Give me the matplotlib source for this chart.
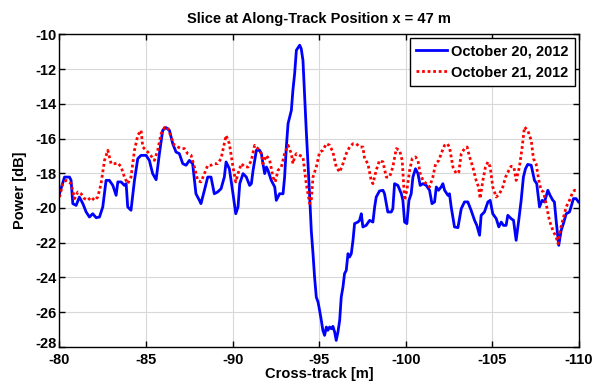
import numpy as np
import matplotlib.pyplot as plt
import matplotlib.transforms as mtransforms

# Cross-track power slice, October 20, 2012
cross_track_oct20 = [
    -80.00, -80.29, -80.58, -80.67, -80.77, -80.96, -81.15, -81.35, -81.54, -81.73,
    -81.92, -82.12, -82.31, -82.50, -82.69, -82.88, -83.08, -83.27, -83.37, -83.56,
    -83.75, -83.85, -83.94, -84.13, -84.33, -84.52, -84.71, -85.00, -85.19, -85.38,
    -85.58, -85.77, -85.96, -86.15, -86.35, -86.54, -86.73, -86.92, -87.12, -87.31,
    -87.50, -87.69, -87.88, -88.08, -88.17, -88.37, -88.56, -88.75, -88.94, -89.13,
    -89.33, -89.52, -89.62, -89.81, -90.02, -90.18, -90.31, -90.41, -90.60, -90.79,
    -90.98, -91.08, -91.18, -91.37, -91.56, -91.66, -91.75, -91.85, -91.95, -92.04,
    -92.23, -92.43, -92.52, -92.71, -92.91, -93.00, -93.10, -93.20, -93.39, -93.48,
    -93.58, -93.68, -93.87, -93.96, -94.06, -94.16, -94.25, -94.35, -94.45, -94.54,
    -94.64, -94.73, -94.83, -94.93, -95.02, -95.12, -95.21, -95.31, -95.41, -95.50,
    -95.60, -95.70, -95.79, -95.89, -95.98, -96.08, -96.18, -96.27, -96.37, -96.46,
    -96.56, -96.66, -96.75, -96.85, -96.95, -97.04, -97.23, -97.33, -97.43, -97.52,
    -97.71, -97.91, -98.10, -98.20, -98.29, -98.48, -98.68, -98.77, -98.87, -98.96,
    -99.16, -99.25, -99.35, -99.54, -99.74, -99.83, -99.93, -100.06, -100.18, -100.31,
    -100.41, -100.56, -100.70, -100.83, -100.99, -101.18, -101.37, -101.51, -101.66, -101.76,
    -101.89, -102.04, -102.14, -102.24, -102.43, -102.52, -102.62, -102.81, -103.01, -103.20,
    -103.39, -103.58, -103.77, -103.97, -104.10, -104.26, -104.35, -104.54, -104.74, -104.87,
    -105.02, -105.22, -105.37, -105.51, -105.64, -105.79, -105.89, -106.08, -106.22, -106.37,
    -106.52, -106.66, -106.79, -106.91, -107.04, -107.24, -107.43, -107.56, -107.72, -107.87,
    -108.01, -108.20, -108.33, -108.49, -108.58, -108.68, -108.83, -108.97, -109.10, -109.26,
    -109.45, -109.54, -109.68, -109.83, -109.97,
]
power_oct20 = [
    -19.18, -18.22, -18.22, -18.41, -19.75, -19.85, -19.37, -19.75, -20.23, -20.52,
    -20.33, -20.56, -20.52, -19.94, -18.41, -18.41, -18.70, -19.27, -18.50, -18.50,
    -18.70, -18.60, -19.94, -20.13, -18.41, -17.16, -16.97, -16.97, -17.26, -18.02,
    -18.37, -16.87, -15.53, -15.37, -15.53, -16.30, -16.78, -16.87, -17.45, -17.54,
    -17.26, -17.45, -19.18, -19.56, -19.75, -18.98, -18.22, -18.22, -19.18, -19.08,
    -18.89, -18.22, -17.35, -17.74, -19.18, -20.33, -19.94, -18.60, -18.02, -18.22,
    -18.70, -18.60, -17.83, -16.68, -16.68, -16.87, -17.45, -18.02, -17.64, -17.83,
    -18.41, -18.79, -19.56, -19.18, -19.18, -18.22, -16.49, -15.14, -14.38, -13.22,
    -12.26, -10.92, -10.63, -10.83, -11.50, -13.61, -15.53, -17.45, -19.37, -21.29,
    -22.63, -23.97, -25.13, -25.41, -25.89, -26.47, -27.04, -27.33, -26.85, -27.04,
    -26.85, -26.95, -26.81, -27.14, -27.62, -27.14, -26.47, -25.13, -24.55, -23.78,
    -23.59, -22.63, -22.82, -22.63, -21.86, -20.90, -20.81, -20.71, -20.33, -21.09,
    -21.00, -20.71, -20.81, -19.94, -19.37, -19.02, -18.98, -19.18, -19.75, -20.23,
    -20.23, -20.04, -18.60, -18.70, -19.18, -19.56, -20.81, -20.90, -19.56, -19.18,
    -18.22, -17.74, -18.02, -18.70, -18.60, -18.70, -18.98, -19.75, -19.65, -18.79,
    -18.98, -18.79, -18.60, -18.98, -19.27, -19.18, -19.94, -21.09, -21.13, -20.04,
    -19.65, -19.65, -20.13, -20.71, -21.00, -21.57, -20.42, -20.23, -19.65, -19.56,
    -20.33, -20.61, -21.09, -20.81, -21.00, -21.00, -20.42, -20.61, -20.71, -21.86,
    -20.71, -19.56, -18.22, -17.74, -17.49, -17.54, -18.41, -18.60, -19.94, -19.56,
    -19.65, -18.98, -19.27, -19.56, -19.65, -20.71, -22.15, -21.29, -20.90, -20.33,
    -20.23, -19.94, -19.46, -19.46, -19.65,
]

# Cross-track power slice, October 21, 2012
cross_track_oct21 = [
    -80.00, -80.19, -80.38, -80.67, -80.87, -81.06, -81.25, -81.44, -81.63, -81.83,
    -82.02, -82.21, -82.40, -82.60, -82.79, -82.98, -83.17, -83.37, -83.56, -83.75,
    -83.94, -84.13, -84.33, -84.52, -84.71, -84.81, -85.00, -85.19, -85.48, -85.67,
    -85.87, -86.06, -86.25, -86.44, -86.63, -86.83, -87.02, -87.21, -87.40, -87.60,
    -87.79, -87.98, -88.17, -88.37, -88.56, -88.75, -88.94, -89.13, -89.33, -89.52,
    -89.62, -89.81, -90.02, -90.18, -90.31, -90.50, -90.70, -90.89, -91.08, -91.27,
    -91.46, -91.66, -91.75, -91.95, -92.14, -92.33, -92.46, -92.62, -92.81, -93.00,
    -93.20, -93.39, -93.48, -93.58, -93.68, -93.87, -94.06, -94.25, -94.45, -94.54,
    -94.64, -94.83, -95.02, -95.21, -95.41, -95.60, -95.79, -95.98, -96.18, -96.37,
    -96.56, -96.75, -96.95, -97.14, -97.33, -97.52, -97.62, -97.81, -98.00, -98.10,
    -98.29, -98.48, -98.68, -98.87, -99.06, -99.25, -99.45, -99.64, -99.79, -99.93,
    -100.06, -100.22, -100.37, -100.56, -100.70, -100.83, -100.99, -101.18, -101.37, -101.56,
    -101.72, -101.91, -102.04, -102.24, -102.39, -102.52, -102.72, -102.91, -103.06, -103.20,
    -103.39, -103.54, -103.68, -103.87, -104.06, -104.20, -104.29, -104.45, -104.60, -104.74,
    -104.87, -105.02, -105.22, -105.41, -105.60, -105.76, -105.95, -106.08, -106.24, -106.37,
    -106.56, -106.72, -106.85, -107.04, -107.24, -107.37, -107.52, -107.68, -107.81, -107.95,
    -108.10, -108.29, -108.49, -108.68, -108.79, -108.91, -109.06, -109.26, -109.45, -109.60,
    -109.74, -109.97,
]
power_oct21 = [
    -19.37, -18.60, -18.41, -18.60, -19.46, -19.08, -19.18, -19.46, -19.56, -19.37,
    -19.56, -19.37, -18.60, -17.26, -16.68, -17.45, -17.45, -17.41, -17.64, -18.22,
    -18.60, -18.22, -16.68, -15.82, -15.53, -16.49, -16.68, -16.87, -17.26, -16.68,
    -15.72, -15.37, -15.37, -15.91, -16.39, -16.49, -16.58, -16.58, -16.87, -16.97,
    -17.64, -18.41, -18.50, -18.02, -17.54, -17.54, -17.45, -17.45, -17.16, -16.30,
    -15.82, -16.30, -17.64, -18.50, -18.02, -17.45, -17.64, -17.64, -17.26, -16.39,
    -16.58, -16.87, -17.45, -16.97, -17.26, -18.22, -18.50, -17.83, -17.64, -16.87,
    -16.39, -16.87, -17.45, -17.06, -16.87, -16.97, -17.06, -18.60, -19.75, -19.56,
    -18.22, -17.64, -16.78, -16.68, -16.30, -16.39, -16.78, -17.64, -17.93, -17.45,
    -16.87, -16.49, -16.30, -16.30, -16.49, -16.49, -17.16, -17.45, -18.41, -18.60,
    -17.83, -17.26, -17.35, -18.22, -18.22, -17.64, -16.58, -16.68, -17.26, -19.56,
    -18.98, -17.83, -17.16, -17.06, -17.26, -18.02, -18.41, -18.60, -18.79, -18.22,
    -17.45, -17.26, -16.87, -16.39, -16.30, -16.49, -17.64, -18.02, -17.93, -16.87,
    -16.58, -16.49, -17.06, -17.64, -18.41, -18.79, -19.46, -18.41, -17.64, -17.35,
    -17.64, -18.79, -19.37, -19.18, -18.79, -18.22, -17.83, -17.60, -17.64, -18.41,
    -17.64, -16.49, -15.34, -15.53, -16.10, -17.16, -17.45, -18.41, -18.98, -19.08,
    -19.75, -20.71, -21.29, -21.67, -22.05, -21.29, -20.71, -19.94, -19.56, -19.18,
    -18.98, -18.98,
]

x_ticks = [-80, -85, -90, -95, -100, -105, -110]
y_ticks = [-28, -26, -24, -22, -20, -18, -16, -14, -12, -10]

plt.rcParams['font.family'] = ['Liberation Sans', 'DejaVu Sans']
plt.rcParams['font.weight'] = 'bold'
plt.rcParams['font.size'] = 10.5
plt.rcParams['axes.unicode_minus'] = False

fig = plt.figure(figsize=(5.99, 3.88), dpi=100)
axis = fig.add_axes([0.0993, 0.1057, 0.8673, 0.806])

axis.plot(cross_track_oct20, power_oct20, color='blue', linewidth=2.0,
          label='October 20, 2012')
axis.plot(cross_track_oct21, power_oct21, color='red', linewidth=2.0,
          linestyle=(0, (1, 1)), label='October 21, 2012')

axis.set_xlim(-80, -110)
axis.set_ylim(-28, -10)
axis.set_xticks(x_ticks)
axis.set_yticks(y_ticks)
axis.grid(visible=True, color='#d8d8d8', linewidth=0.8)
axis.set_axisbelow(True)
axis.tick_params(direction='in', top=True, right=True, length=4, width=1,
                 labelsize=10.5)
axis.tick_params(axis='x', pad=4)
axis.tick_params(axis='y', pad=2)
for spine in axis.spines.values():
    spine.set(color='black', linewidth=1)

# lift the lowest y label a little so it clears the first x label
bottom_label = axis.get_yticklabels()[0]
bottom_label.set_transform(bottom_label.get_transform() +
                           mtransforms.ScaledTranslation(0, 3 / 72, fig.dpi_scale_trans))

axis.set_title('Slice at Along-Track Position x = 47 m', fontsize=10.5,
               fontweight='bold', pad=8)
axis.set_xlabel('Cross-track [m]', fontsize=10.5, fontweight='bold', labelpad=0)
axis.set_ylabel('Power [dB]', fontsize=10.5, fontweight='bold', labelpad=6)

legend = axis.legend(loc='upper right', fancybox=False, framealpha=1,
                     edgecolor='black', borderaxespad=0.25, handlelength=2.1,
                     handletextpad=0.3, borderpad=0.45, labelspacing=0.45,
                     prop={'weight': 'bold', 'size': 10.5})
legend.get_frame().set_linewidth(1)

plt.savefig('out.png', dpi=100)
